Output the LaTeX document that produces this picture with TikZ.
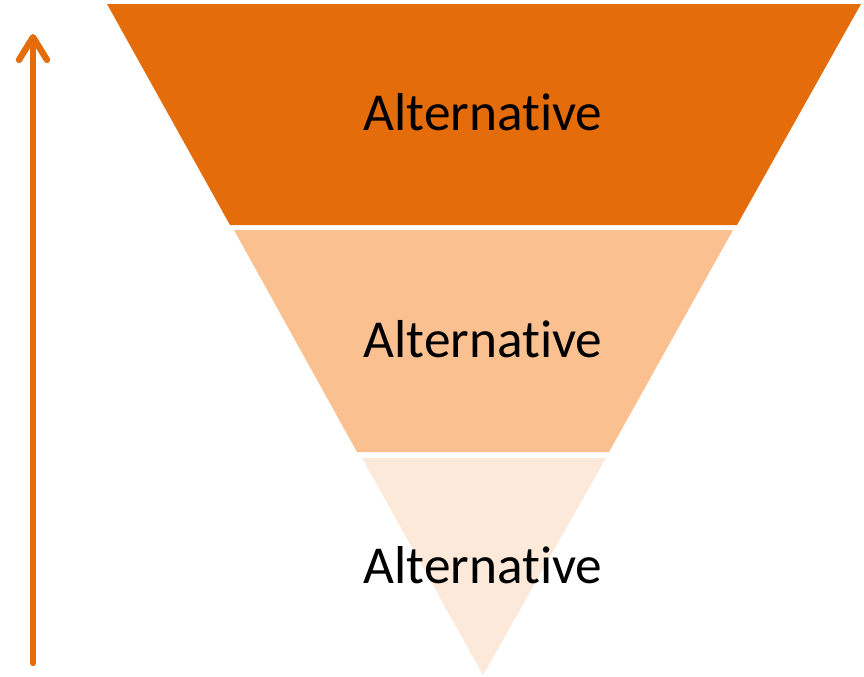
\documentclass[tikz,border=0pt]{standalone}
\usepackage{fontspec}
\setmainfont{Carlito}[Ligatures=NoCommon]
\usetikzlibrary{arrows.meta}
\definecolor{funnelDark}{HTML}{E46C0A}
\definecolor{funnelMid}{HTML}{FAC090}
\definecolor{funnelLight}{HTML}{FDE9D9}
\begin{document}
\begin{tikzpicture}[x=0.75pt,y=-0.75pt,
  label/.style={anchor=base,font=\fontsize{40}{48}\selectfont,inner sep=0pt},
  upArrow/.style={draw=funnelDark,line width=4.8pt,line cap=round,
    -{Straight Barb[length=17pt,width=21pt,line cap=round,line join=round]}}]
  \useasboundingbox (0,0) rectangle (864,676);
  \fill[funnelDark]  (107,4) -- (861,4) -- (737,225) -- (230,225) -- cycle;
  \fill[funnelMid]   (234,230) -- (733,230) -- (609,452) -- (357,452) -- cycle;
  \fill[funnelLight] (362,458) -- (606,458) -- (483,675) -- cycle;
  \node[label] (top) at (483,130) {Alternative};
  \node[label] (mid) at (483,357) {Alternative};
  \node[label] (bot) at (483,583) {Alternative};
  \coordinate (start) at (33,663);
  \coordinate (end) at (33,34);
  \draw[upArrow] (start) -- (end);
\end{tikzpicture}
\end{document}
